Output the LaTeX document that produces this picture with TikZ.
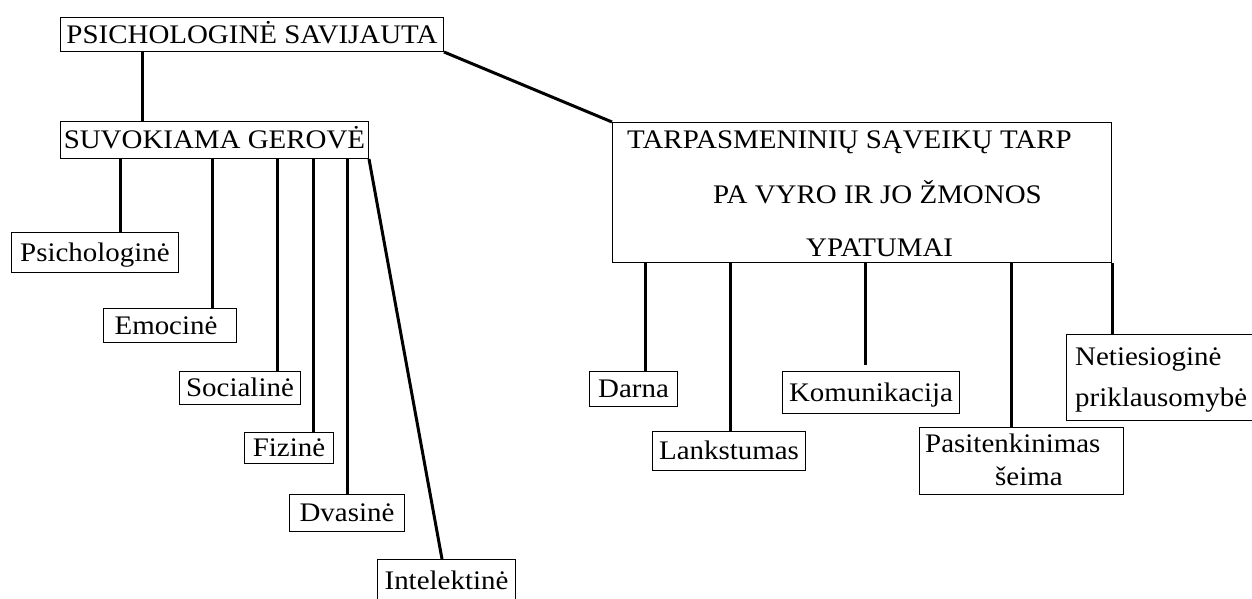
\documentclass[tikz,border=0pt]{standalone}
\usepackage{fontspec}
\usetikzlibrary{calc}
\newfontfamily\lsf[FakeStretch=1.08]{Liberation Serif}
\newcommand\lbl{\lsf\fontsize{26.8}{32}\selectfont}
\begin{document}
\begin{tikzpicture}[x=1pt,y=-1pt,
  box/.style={draw, line width=1pt, inner sep=0pt, anchor=north west, font=\lbl, text height=17.5pt, text depth=0pt},
  conn/.style={line width=3pt},
  txt/.style={inner sep=0pt, anchor=base west, font=\lbl}]
\fill[white] (0,0) rectangle (1252,599);
\useasboundingbox (0,0) rectangle (1252,599);

% top level
\node[box, minimum width=383pt, minimum height=34pt] (psy) at (60,17) {PSICHOLOGINĖ SAVIJAUTA};
\node[box, minimum width=308pt, minimum height=37pt] (suv) at (60,121) {SUVOKIAMA GEROVĖ};
\node[box, minimum width=499pt, minimum height=140pt] (tarp) at (612,122) {};
\node[txt] (t1) at (627,149) {TARPASMENINIŲ SĄVEIKŲ TARP};
\node[txt] (t2) at (713,203) {PA VYRO IR JO ŽMONOS};
\node[txt] (t3) at (806,256) {YPATUMAI};

% left children
\node[box, minimum width=167pt, minimum height=40pt] (psi) at (11,232) {Psichologinė};
\node[box, minimum width=133pt, minimum height=34pt] (emo) at (103,308) {Emocinė\kern8pt};
\node[box, minimum width=121pt, minimum height=33pt] (soc) at (179,371) {Socialinė};
\node[box, minimum width=89pt, minimum height=31pt] (fiz) at (244,432) {Fizinė};
\node[box, minimum width=115pt, minimum height=37pt] (dva) at (289,494) {Dvasinė};
\node[box, minimum width=138pt, minimum height=42pt] (int) at (377,559) {Intelektinė};

% right children
\node[box, minimum width=88pt, minimum height=35pt] (dar) at (589,371) {Darna};
\node[box, minimum width=153pt, minimum height=39pt] (lan) at (652,431) {Lankstumas};
\node[box, minimum width=177pt, minimum height=42pt] (kom) at (782,371) {Komunikacija};
\node[box, minimum width=204pt, minimum height=67pt] (pas) at (919,427) {};
\node[txt] (p1) at (925,452) {Pasitenkinimas};
\node[txt] (p2) at (995,485) {šeima};
\node[box, minimum width=200pt, minimum height=86pt] (net) at (1066,334) {};
\node[txt] (n1) at (1075,365) {Netiesioginė};
\node[txt] (n2) at (1075,406) {priklausomybė};

% connectors
\draw[conn] (142,0 |- psy.south) -- (142,0 |- suv.north);
\draw[conn] (psy.south east) -- (tarp.north west);
\draw[conn] (120,0 |- suv.south) -- (120,0 |- psi.north);
\draw[conn] (212,0 |- suv.south) -- (212,0 |- emo.north);
\draw[conn] (277,0 |- suv.south) -- (277,0 |- soc.north);
\draw[conn] (313,0 |- suv.south) -- (313,0 |- fiz.north);
\draw[conn] (347,0 |- suv.south) -- (347,0 |- dva.north);
\draw[conn] (suv.south east) -- (442,0 |- int.north);
\draw[conn] (645,0 |- tarp.south) -- (645,0 |- dar.north);
\draw[conn] (730,0 |- tarp.south) -- (730,0 |- lan.north);
\draw[conn] (865,0 |- tarp.south) -- ($(865,0 |- kom.north)+(0,-6)$);
\draw[conn] (1011,0 |- tarp.south) -- (1011,0 |- pas.north);
\draw[conn] (tarp.south east) -- (tarp.south east |- net.north);
\end{tikzpicture}
\end{document}
